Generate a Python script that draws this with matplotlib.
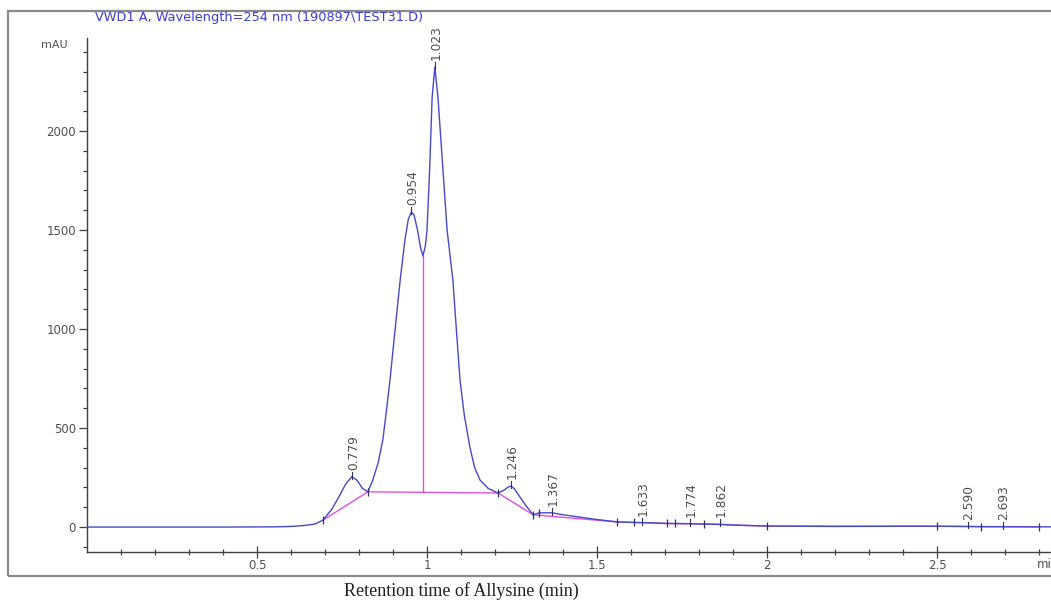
import numpy as np
import matplotlib.pyplot as plt
from matplotlib.patches import Rectangle

# signal trace (min, mAU)
rt = [0.00, 0.20, 0.40, 0.55, 0.60, 0.64, 0.67, 0.694, 0.72, 0.74, 0.76, 0.779,
      0.795, 0.81, 0.826, 0.84, 0.856, 0.87, 0.88, 0.891, 0.905, 0.921, 0.935,
      0.945, 0.954, 0.962, 0.972, 0.981, 0.988, 0.995, 1.000, 1.008, 1.015,
      1.023, 1.032, 1.045, 1.059, 1.076, 1.087, 1.097, 1.110, 1.126, 1.140,
      1.156, 1.180, 1.209, 1.225, 1.237, 1.246, 1.256, 1.270, 1.290, 1.312,
      1.330, 1.367, 1.400, 1.450, 1.500, 1.559, 1.610, 1.650, 1.706, 1.730,
      1.774, 1.815, 1.862, 1.900, 2.000, 2.200, 2.400, 2.500, 2.590, 2.630,
      2.693, 2.800, 2.835]
signal = [0, 0, 0, 1, 3, 8, 15, 35, 90, 150, 215, 255,
          235, 195, 178, 235, 323, 440, 580, 742, 980, 1247, 1450,
          1555, 1592, 1575, 1500, 1410, 1369, 1420, 1500, 1820, 2172,
          2323, 2172, 1850, 1500, 1247, 980, 742, 560, 404, 300,
          237, 195, 172, 185, 200, 207, 195, 160, 110, 62,
          72, 72, 62, 50, 38, 26, 23, 22, 18, 18,
          17, 15, 14, 10, 5, 3, 4, 4, 3, 2,
          2, 1, 1]

# integration baseline (pink)
base_t = [0.694, 0.826, 1.209, 1.312, 1.559, 1.706, 1.815, 2.000, 2.500, 2.630, 2.800]
base_y = [35, 178, 172, 62, 26, 18, 15, 5, 4, 2, 1]
mark_t = [0.694, 0.826, 1.209, 1.312, 1.330, 1.559, 1.610, 1.706, 1.730, 1.815, 2.000,
          2.500, 2.630, 2.800]

# drop line between 0.954 and 1.023
drop_t = 0.988
drop_lo = 176
drop_hi = 1369

peak_rt = [0.779, 0.954, 1.023, 1.246, 1.367, 1.633, 1.774, 1.862, 2.590, 2.693]
peak_labels = ["0.779", "0.954", "1.023", "1.246", "1.367", "1.633", "1.774",
               "1.862", "2.590", "2.693"]

trace_col = "#4848cc"
base_col = "#e050e0"
txt_col = "#505050"

fig = plt.figure(figsize=(10.51, 6.05), dpi=100)
ax = fig.add_axes([87 / 1051, 1 - 552 / 605, 964 / 1051, (552 - 38) / 605])

ax.plot(base_t, base_y, color=base_col, lw=1.0, zorder=2)
ax.plot([drop_t, drop_t], [drop_lo, drop_hi], color=base_col, lw=1.0, zorder=2)
ax.plot(rt, signal, color=trace_col, lw=1.0, zorder=3)

mark_y = np.interp(mark_t, rt, signal)
ax.plot(mark_t, mark_y, ls="none", marker="|", ms=6, mew=0.9, color="#303060", zorder=4)

peak_y = np.interp(peak_rt, rt, signal)
for t, y, lab in zip(peak_rt, peak_y, peak_labels):
    ax.plot([t, t], [y - 10, y + 25], color="#303060", lw=0.8, zorder=4)
    ax.annotate(lab, (t, y), xytext=(1, 5), textcoords="offset points",
                rotation=90, ha="center", va="bottom", fontsize=8.8, color=txt_col)

ax.set_xlim(0, 2.835)
ax.set_ylim(-126, 2470)
ax.set_xticks([0.5, 1, 1.5, 2, 2.5])
ax.set_xticklabels(["0.5", "1", "1.5", "2", "2.5"])
ax.set_xticks(np.arange(0.1, 2.81, 0.1), minor=True)
ax.set_yticks([0, 500, 1000, 1500, 2000])
ax.set_yticks(np.arange(-100, 2401, 100), minor=True)

for s in ["top", "right"]:
    ax.spines[s].set_visible(False)
for s in ["left", "bottom"]:
    ax.spines[s].set_color("#404040")
    ax.spines[s].set_linewidth(1.0)

ax.tick_params(axis="x", which="major", direction="inout", length=8, width=0.9,
               colors="#404040", labelcolor=txt_col, labelsize=8.5, pad=1)
ax.tick_params(axis="x", which="minor", direction="inout", length=5, width=0.9, colors="#404040")
ax.tick_params(axis="y", which="major", direction="out", length=6, width=0.9,
               colors="#404040", labelcolor=txt_col, labelsize=8.5, pad=2)
ax.tick_params(axis="y", which="minor", direction="out", length=3, width=0.9, colors="#404040")

ax.text(2.792, -0.012, "min", transform=ax.get_xaxis_transform(), fontsize=8.5,
        color=txt_col, ha="left", va="top")
fig.text(68 / 1051, 1 - 45 / 605, "mAU", fontsize=8, color=txt_col, ha="right", va="center")

fig.text(95 / 1051, 1 - 18 / 605, "VWD1 A, Wavelength=254 nm (190897\\TEST31.D)",
         fontsize=9.3, color="#3c3cdc", ha="left", va="center")

fig.patches.append(Rectangle((8 / 1051, 1 - 576 / 605), 1.1, (576 - 11) / 605,
                             transform=fig.transFigure, fill=False,
                             edgecolor="#8a8a8a", lw=1.6))

fig.text(461 / 1051, 1 - 591 / 605, "Retention time of Allysine (min)",
         family="Liberation Serif", fontsize=13, color="#202020", ha="center", va="center")

fig.savefig("out.png", dpi=100)
